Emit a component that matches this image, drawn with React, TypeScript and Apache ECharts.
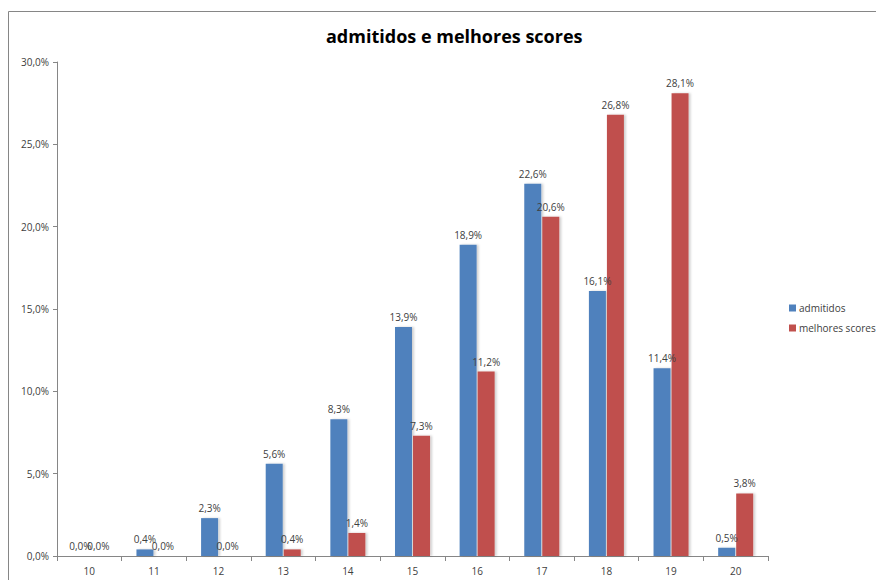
import React, { useEffect, useRef } from "react";
import * as echarts from "echarts";

const categories = ["10", "11", "12", "13", "14", "15", "16", "17", "18", "19", "20"];
const admitidos = [0.0, 0.4, 2.3, 5.6, 8.3, 13.9, 18.9, 22.6, 16.1, 11.4, 0.5];
const melhoresScores = [0.0, 0.0, 0.0, 0.4, 1.4, 7.3, 11.2, 20.6, 26.8, 28.1, 3.8];
const yTicks = { min: 0, max: 30, interval: 5 };

const FONT = "'Open Sans', 'Noto Sans', sans-serif";
const fmt = (v: number) => v.toFixed(1).replace(".", ",") + "%";

export default function App() {
  const ref = useRef<HTMLDivElement>(null);
  useEffect(() => {
    document.body.style.margin = "0";
    const chart = echarts.init(ref.current!, null, { renderer: "svg" });
    const barShadow = {
      shadowColor: "rgba(0,0,0,0.18)",
      shadowBlur: 2,
      shadowOffsetX: 2,
      shadowOffsetY: 0,
    };
    const label = {
      show: true,
      position: "top" as const,
      distance: 5,
      color: "#404040",
      fontSize: 10,
      fontFamily: FONT,
      formatter: (p: any) => fmt(p.value),
    };
    chart.setOption({
      animation: false,
      backgroundColor: "#ffffff",
      title: {
        text: "admitidos e melhores scores",
        left: 321,
        top: 22,
        textStyle: { fontFamily: FONT, fontWeight: "bold", fontSize: 18, color: "#000000" },
      },
      legend: {
        orient: "vertical",
        left: 784,
        top: 298,
        itemWidth: 7,
        itemHeight: 7,
        itemGap: 10,
        icon: "rect",
        textStyle: { fontFamily: FONT, fontSize: 10, color: "#404040", padding: [0, 0, 0, -2] },
        data: ["admitidos", "melhores scores"],
      },
      grid: { left: 57, right: 108, top: 62, bottom: 24, containLabel: false },
      xAxis: {
        type: "category",
        data: categories,
        axisLine: { lineStyle: { color: "#868686" } },
        axisTick: { show: true, alignWithLabel: false, length: 5, lineStyle: { color: "#868686" } },
        axisLabel: { fontFamily: FONT, fontSize: 10, color: "#404040", margin: 10 },
      },
      yAxis: {
        type: "value",
        min: yTicks.min,
        max: yTicks.max,
        interval: yTicks.interval,
        axisLine: { show: true, lineStyle: { color: "#868686" } },
        axisTick: { show: true, length: 4, lineStyle: { color: "#868686" } },
        splitLine: { show: false },
        axisLabel: { fontFamily: FONT, fontSize: 10, color: "#404040", margin: 8, formatter: (v: number) => fmt(v) },
      },
      series: [
        {
          name: "admitidos",
          type: "bar",
          data: admitidos,
          barWidth: 17,
          barGap: "6%",
          itemStyle: { color: "#4F81BD", ...barShadow },
          label,
        },
        {
          name: "melhores scores",
          type: "bar",
          data: melhoresScores,
          barWidth: 17,
          barGap: "6%",
          itemStyle: { color: "#C0504D", ...barShadow },
          label,
        },
      ],
      graphic: [
        {
          type: "polyline",
          shape: { points: [[8.5, 600], [8.5, 11.5], [900, 11.5]] },
          style: { stroke: "#868686", fill: "none", lineWidth: 1 },
          silent: true,
        },
      ],
    });
    return () => chart.dispose();
  }, []);
  return <div ref={ref} style={{ width: 876, height: 580 }} />;
}
